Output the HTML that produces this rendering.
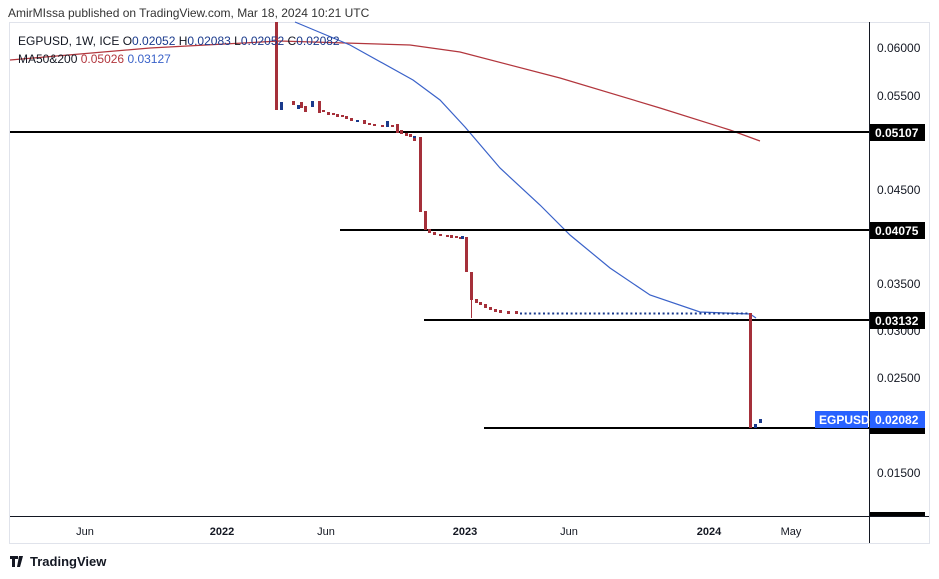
<!DOCTYPE html>
<html><head><meta charset="utf-8"><style>
body{margin:0;background:#fff;width:939px;height:579px;overflow:hidden;font-family:"Liberation Sans",sans-serif}
svg{display:block}
</style></head><body>
<svg width="939" height="579" xmlns="http://www.w3.org/2000/svg" font-family="Liberation Sans, sans-serif">
<rect width="939" height="579" fill="#fff"/>
<text x="8" y="17" font-size="12" fill="#333">AmirMIssa published on TradingView.com, Mar 18, 2024 10:21 UTC</text>
<rect x="9.5" y="22.5" width="920" height="521" fill="none" stroke="#e0e3eb"/>
<line x1="869.5" y1="22" x2="869.5" y2="543" stroke="#131722"/>
<line x1="10" y1="516.5" x2="929" y2="516.5" stroke="#131722"/>
<!-- MAs -->
<polyline fill="none" stroke="#b2363d" stroke-width="1.2" points="10,60 150,48 280,41 410,45 460,52 560,78 660,108 730,130 760,141"/>
<polyline fill="none" stroke="#3a62c9" stroke-width="1.2" points="295,22 350,45 413,80 440,100 465,127 500,168 540,205 570,235 610,268 650,295 700,312 750,314 756,318"/>
<!-- horizontal lines -->
<g stroke="#000" stroke-width="2">
<line x1="10" y1="132" x2="869" y2="132"/>
<line x1="340" y1="230" x2="869" y2="230"/>
<line x1="424" y1="320" x2="869" y2="320"/>
<line x1="484" y1="428" x2="869" y2="428"/>
</g>
<!-- candles -->
<g fill="#a5303a">
<rect x="275" y="22" width="3" height="88"/>
<rect x="292" y="101" width="3" height="4"/><rect x="300" y="102" width="3" height="6"/><rect x="304" y="106" width="3" height="6"/>
<rect x="318" y="101" width="3" height="12"/><rect x="322" y="110" width="3" height="2"/><rect x="327" y="112" width="3" height="3"/>
<rect x="332" y="113" width="3" height="2"/><rect x="336" y="114" width="3" height="3"/><rect x="341" y="115" width="3" height="2"/>
<rect x="345" y="116" width="3" height="3"/><rect x="350" y="118" width="3" height="3"/><rect x="363" y="120" width="3" height="4"/>
<rect x="368" y="123" width="3" height="2"/><rect x="373" y="124" width="3" height="2"/><rect x="381" y="125" width="3" height="2"/>
<rect x="391" y="125" width="3" height="2"/><rect x="396" y="124" width="3" height="9"/><rect x="400" y="130" width="3" height="4"/>
<rect x="405" y="133" width="3" height="3"/><rect x="409" y="134" width="3" height="3"/><rect x="413" y="136" width="3" height="5"/>
<rect x="419" y="137" width="3" height="75"/><rect x="424" y="211" width="3" height="19"/>
<rect x="428" y="229" width="3" height="4"/><rect x="433" y="232" width="3" height="3"/><rect x="439" y="234" width="3" height="2"/>
<rect x="446" y="235" width="3" height="2"/><rect x="450" y="235" width="3" height="3"/><rect x="455" y="236" width="3" height="2"/>
<rect x="459" y="237" width="3" height="2"/><rect x="465" y="237" width="3" height="35"/>
<rect x="470" y="272" width="3" height="28"/><rect x="471" y="290" width="1" height="28"/>
<rect x="475" y="299" width="3" height="4"/><rect x="479" y="302" width="3" height="3"/><rect x="484" y="304" width="3" height="4"/>
<rect x="489" y="307" width="3" height="3"/><rect x="494" y="309" width="3" height="3"/><rect x="499" y="310" width="3" height="3"/>
<rect x="507" y="311" width="3" height="3"/><rect x="515" y="311" width="3" height="3"/>
<rect x="749" y="313" width="3" height="115"/>
</g>
<g fill="#1a3a8c">
<rect x="280" y="102" width="3" height="8"/><rect x="297" y="105" width="3" height="4"/><rect x="311" y="101" width="3" height="6"/>
<rect x="356" y="120" width="3" height="2"/><rect x="386" y="121" width="3" height="6"/>
<rect x="413" y="136" width="3" height="2"/><rect x="461" y="236" width="3" height="3"/>
<rect x="754" y="424" width="3" height="4"/><rect x="759" y="419" width="3" height="4"/>
</g>
<!-- flat small candles -->
<line x1="520" y1="313.5" x2="748" y2="313.5" stroke="#1a3a8c" stroke-width="2" stroke-dasharray="2,2.6"/>
<!-- legend -->
<rect x="12" y="30" width="300" height="38" fill="#fff" fill-opacity="0.0"/>
<text x="18" y="45" font-size="12" fill="#131722">EGPUSD, 1W, ICE  O<tspan fill="#1a3a8c">0.02052</tspan>  H<tspan fill="#1a3a8c">0.02083</tspan>  L<tspan fill="#1a3a8c">0.02052</tspan>  C<tspan fill="#1a3a8c">0.02082</tspan></text>
<text x="18" y="63" font-size="12" fill="#131722">MA50&amp;200  <tspan fill="#b2363d">0.05026</tspan>  <tspan fill="#3a62c9">0.03127</tspan></text>
<!-- price axis -->
<g font-size="12" fill="#131722">
<text x="877" y="52">0.06000</text>
<text x="877" y="100">0.05500</text>
<text x="877" y="194">0.04500</text>
<text x="877" y="288">0.03500</text>
<text x="877" y="335">0.03000</text>
<text x="877" y="382">0.02500</text>
<text x="877" y="477">0.01500</text>
</g>
<g font-size="12" font-weight="bold" fill="#fff">
<rect x="870" y="124" width="55" height="17" fill="#000"/><text x="875" y="137">0.05107</text>
<rect x="870" y="222" width="55" height="17" fill="#000"/><text x="875" y="235">0.04075</text>
<rect x="870" y="312" width="55" height="17" fill="#000"/><text x="875" y="325">0.03132</text>
<rect x="870" y="420" width="55" height="14" fill="#000"/>
<rect x="870" y="411" width="55" height="17" fill="#2962ff"/><text x="875" y="424">0.02082</text>
<rect x="815" y="411" width="53" height="17" fill="#2962ff"/><text x="819" y="424">EGPUSD</text>
<rect x="870" y="512" width="55" height="4" fill="#000"/>
</g>
<!-- time axis -->
<g font-size="11" fill="#131722" text-anchor="middle">
<text x="85" y="535">Jun</text>
<text x="222" y="535" font-weight="bold">2022</text>
<text x="326" y="535">Jun</text>
<text x="465" y="535" font-weight="bold">2023</text>
<text x="569" y="535">Jun</text>
<text x="709" y="535" font-weight="bold">2024</text>
<text x="791" y="535">May</text>
</g>
<text x="30" y="566" font-size="13" font-weight="bold" fill="#131722">TradingView</text>
<path d="M10 556h8v3h-3v8h-3v-8h-2z M19 556h4l-3 11h-3z" fill="#131722"/>
</svg>
</body></html>
